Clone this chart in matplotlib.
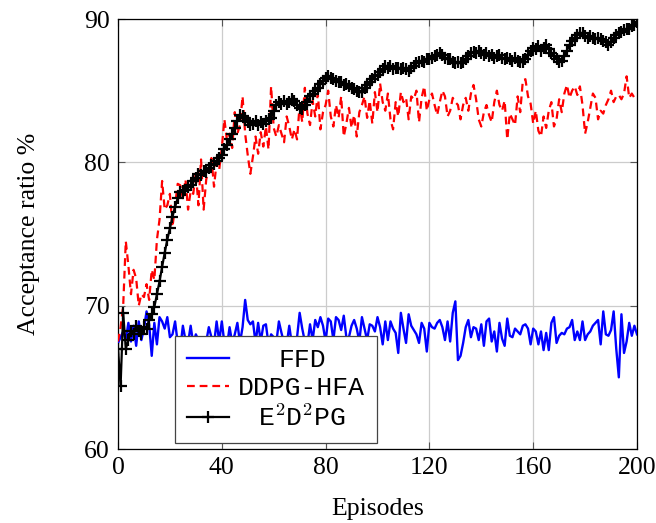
import matplotlib
matplotlib.use("Agg")
import matplotlib.pyplot as plt

episodes = list(range(0, 201))

ffd = [67.4, 67.8, 68.2, 67.6, 68.8, 67.5, 68.6, 67.2, 68.9, 67.6,
       68.4, 69.6, 68.7, 66.5, 68.8, 67.3, 69.2, 68.9, 68.4, 69.2,
       67.8, 68.0, 68.9, 67.4, 67.0, 68.6, 67.6, 67.4, 68.6, 67.3,
       68.0, 67.6, 67.2, 67.7, 67.5, 68.5, 67.8, 67.3, 68.9, 67.5,
       68.9, 67.4, 67.2, 68.5, 67.4, 68.0, 68.8, 67.4, 68.5, 70.4,
       69.0, 68.7, 68.9, 67.4, 68.8, 67.5, 68.6, 68.7, 67.3, 68.0,
       67.8, 67.4, 68.9, 68.1, 67.4, 67.3, 68.6, 67.3, 67.5, 67.8,
       69.5, 68.4, 67.5, 67.3, 68.7, 67.6, 69.0, 68.5, 69.2, 68.6,
       67.5, 69.1, 68.9, 67.6, 69.2, 69.0, 68.3, 69.3, 67.8, 67.8,
       68.6, 69.0, 68.4, 67.5, 69.2, 68.4, 67.6, 68.7, 68.6, 68.2,
       69.2, 68.5, 67.3, 68.9, 67.6, 68.9, 68.4, 68.1, 66.7, 69.5,
       68.4, 67.4, 69.4, 68.6, 68.3, 68.0, 67.4, 68.8, 68.4, 66.8,
       68.8, 68.5, 68.4, 68.8, 69.0, 68.5, 67.6, 68.9, 67.5, 69.5,
       70.3, 66.2, 66.5, 67.4, 68.5, 69.0, 67.8, 68.5, 68.4, 67.6,
       68.7, 67.2, 68.9, 69.1, 67.5, 68.2, 66.8, 68.8, 67.7, 67.2,
       69.1, 67.9, 67.8, 68.4, 68.2, 68.0, 68.6, 68.7, 68.4, 67.3,
       68.4, 68.2, 67.3, 68.2, 66.9, 68.1, 66.9, 68.8, 69.2, 67.4,
       67.9, 68.1, 68.0, 68.4, 68.5, 69.0, 67.6, 68.2, 67.6, 68.9,
       67.6, 68.0, 68.2, 68.6, 68.8, 69.0, 67.3, 69.6, 68.0, 67.9,
       68.3, 69.6, 67.0, 65.0, 69.4, 66.7, 67.5, 68.8, 67.9, 68.6,
       68.0]

ddpg_hfa = [67.5, 68.5, 70.0, 74.5, 72.8, 70.8, 72.5, 71.9, 70.0, 70.8,
            70.6, 71.5, 70.4, 72.5, 71.8, 74.6, 76.0, 78.7, 76.7, 77.0,
            77.8, 75.5, 77.0, 78.5, 78.4, 77.5, 78.8, 76.7, 78.0, 77.8,
            79.3, 77.0, 80.2, 76.7, 78.8, 79.6, 80.3, 78.3, 80.0, 79.5,
            81.0, 83.0, 81.5, 82.0, 81.0, 83.5, 82.0, 82.6, 84.6, 82.0,
            80.5, 79.2, 80.4, 81.8, 80.6, 82.1, 81.1, 82.5, 80.9, 85.3,
            82.4, 81.8, 82.6, 82.0, 81.4, 83.2, 82.5, 81.6, 82.3, 81.6,
            84.0, 82.8, 85.2, 83.4, 82.6, 84.3, 83.2, 84.8, 82.3, 83.5,
            84.0, 85.0, 83.2, 82.5, 84.0, 83.1, 84.6, 81.8, 82.7, 83.8,
            82.4, 83.3, 81.8, 83.5, 84.0, 84.6, 83.1, 84.3, 82.7, 84.9,
            83.5, 85.5, 84.2, 83.6, 84.8, 83.0, 82.3, 84.2, 83.2, 84.9,
            84.2, 84.5, 83.0, 84.6, 84.4, 85.0, 82.8, 84.5, 85.3, 83.6,
            84.4, 84.8, 84.0, 83.3, 84.2, 85.0, 84.6, 83.2, 83.6, 84.5,
            84.2, 84.0, 83.0, 84.0, 84.5, 83.6, 84.8, 85.4, 84.4, 83.0,
            82.5, 83.5, 84.0, 83.3, 82.8, 84.2, 85.0, 84.0, 83.6, 84.3,
            81.6, 83.4, 83.0, 82.6, 84.6, 83.5, 85.7, 85.8, 84.6, 84.1,
            82.7, 83.6, 82.2, 81.8, 83.2, 82.4, 83.6, 84.2, 82.5, 83.0,
            84.4, 83.5, 84.8, 85.4, 84.5, 85.0, 85.3, 84.7, 85.3, 84.0,
            82.0, 82.8, 83.8, 84.8, 84.5, 83.0, 83.6, 83.4, 84.0, 84.4,
            85.0, 84.2, 84.6, 84.7, 84.4, 84.8, 86.0, 84.5, 84.8, 84.5,
            84.6]

e2d2pg = [67.0, 64.4, 69.5, 67.0, 67.6, 68.2, 68.0, 68.6, 68.2, 68.0,
          68.5, 68.4, 69.0, 69.4, 69.9, 70.8, 71.7, 72.7, 73.7, 74.6,
          75.4, 76.2, 76.9, 77.5, 77.9, 78.0, 78.1, 78.3, 78.4, 78.7,
          78.9, 79.2, 79.1, 79.4, 79.3, 79.6, 79.8, 79.9, 80.1, 80.3,
          80.5, 80.9, 81.2, 81.6, 82.0, 82.4, 82.9, 83.3, 83.2, 83.1,
          82.8, 82.6, 82.7, 82.9, 82.6, 82.8, 82.7, 82.9, 83.0, 83.1,
          83.6, 84.0, 84.2, 84.1, 84.3, 84.1, 84.2, 84.4, 84.3, 84.0,
          83.8, 83.7, 84.0, 84.2, 84.6, 84.8, 85.0, 85.2, 85.5, 85.7,
          85.9, 86.0, 85.9, 85.8, 85.7, 85.6, 85.6, 85.4, 85.5, 85.3,
          85.2, 85.1, 85.0, 84.9, 84.9, 85.2, 85.4, 85.6, 85.8, 86.0,
          86.1, 86.3, 86.5, 86.7, 86.6, 86.7, 86.5, 86.6, 86.6, 86.5,
          86.6, 86.5, 86.4, 86.6, 86.7, 86.9, 87.0, 87.1, 87.0, 87.2,
          87.2, 87.3, 87.4, 87.5, 87.6, 87.5, 87.3, 87.2, 87.2, 87.0,
          86.9, 87.0, 86.9, 87.0, 87.2, 87.4, 87.6, 87.7, 87.6, 87.8,
          87.6, 87.5, 87.6, 87.4, 87.5, 87.3, 87.4, 87.5, 87.3, 87.2,
          87.3, 87.2, 87.1, 87.3, 87.1, 87.0, 87.0, 87.2, 87.5, 87.8,
          88.0, 87.9, 88.1, 87.8, 88.0, 88.2, 87.9, 87.6, 87.4, 87.2,
          87.0, 87.1, 87.4, 87.8, 88.2, 88.5, 88.7, 88.9, 89.0, 89.0,
          88.8, 88.7, 88.8, 88.7, 88.6, 88.7, 88.6, 88.5, 88.4, 88.2,
          88.4, 88.7, 88.9, 89.0, 89.1, 89.2, 89.3, 89.3, 89.5, 89.6,
          89.8]

x_ticks = [0, 40, 80, 120, 160, 200]
y_ticks = [60, 70, 80, 90]
labels = ["FFD", "DDPG-HFA", r"E$^2$D$^2$PG"]

plt.rcParams["mathtext.fontset"] = "cm"
serif = "Liberation Serif"
mono = "Liberation Mono"

fig = plt.figure(figsize=(6.56, 5.23), dpi=100)
ax = fig.add_axes([118 / 656, 1 - 449 / 523, (637 - 118) / 656, (449 - 19) / 523])

l1, = ax.plot(episodes, ffd, color="#0000ff", lw=1.7, label=labels[0], zorder=3)
l2, = ax.plot(episodes, ddpg_hfa, color="#ff0000", lw=1.6, ls=(0, (3.5, 2.2)), label=labels[1], zorder=3)
l3, = ax.plot(episodes, e2d2pg, color="black", lw=1.6, marker="+", ms=8, mew=1.6, label=labels[2], zorder=4)

ax.set_xlim(0, 200)
ax.set_ylim(60, 90)
ax.set_xticks(x_ticks)
ax.set_yticks(y_ticks)
ax.grid(True, color="#cccccc", lw=0.9)
ax.set_axisbelow(True)
ax.tick_params(direction="in", length=5, width=0.8, color="#555555",
               top=True, right=True, labelsize=18.5, pad=6)
for lab in ax.get_xticklabels() + ax.get_yticklabels():
    lab.set_fontfamily(serif)
for s in ax.spines.values():
    s.set_linewidth(0.9)
    s.set_color("black")

ax.set_xlabel("Episodes", fontfamily=serif, fontsize=18.5)
ax.set_ylabel("Acceptance ratio %", fontfamily=serif, fontsize=18.5)
ax.xaxis.set_label_coords(0.5, (449 - 498) / 430)
ax.yaxis.set_label_coords((40 - 118) / 519, 0.5)

leg = ax.legend(handles=[l1, l2, l3], loc="lower left",
                bbox_to_anchor=((175 - 118) / 519, (449 - 443) / 430),
                prop={"family": mono, "size": 19}, frameon=True, fancybox=False,
                edgecolor="#444444", framealpha=1, handlelength=1.6,
                borderpad=0.45, labelspacing=0.16, handletextpad=0.35,
                borderaxespad=0)
leg.get_frame().set_linewidth(0.9)
leg.set_zorder(10)

fig.canvas.draw()
texts = leg.get_texts()
widths = [t.get_window_extent().width for t in texts]
wmax = max(widths)
for t, w in zip(texts, widths):
    t.set_x((wmax - w) / 2)

fig.savefig("out.png", dpi=100)
